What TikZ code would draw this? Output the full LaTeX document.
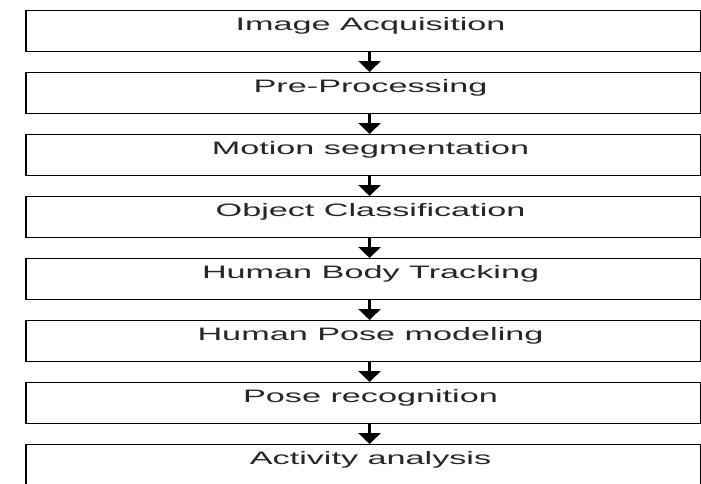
\documentclass[tikz,border=0pt]{standalone}
\usepackage{fontspec}
\setmainfont{Liberation Sans}
\usetikzlibrary{arrows.meta}
\tikzset{
  stagebox/.style={draw=black, line width=1.1pt, minimum width=674pt, minimum height=41pt, inner sep=0pt, anchor=north west},
  stagelabel/.style={anchor=base, inner sep=0pt, font=\fontsize{18}{20}\selectfont, text=black!85},
  flowarrow/.style={line width=3.6pt, -{Triangle[width=22pt,length=11pt]}, shorten >=0pt},
}
\begin{document}
\begin{tikzpicture}[x=1pt,y=-1pt]
\useasboundingbox (0,0) rectangle (701,483);
\clip (0,0) rectangle (701,483);
\fill[white] (0,0) rectangle (701,483);
\foreach \i/\t in {1/Image Acquisition,2/Pre-Processing,3/Motion segmentation,4/Object Classification,5/Human Body Tracking,6/Human Pose modeling,7/Pose recognition,8/Activity analysis}{
  \node[stagebox] (b\i) at (26,{10+62*(\i-1)}) {};
  \draw[line width=2pt] (b\i.north west) -- (b\i.south west);
  \node[stagelabel] (t\i) at ([xshift=7pt,yshift=-20.5pt]b\i.north) {\scalebox{1.9}[1]{\t}};
}
\foreach \i/\j in {1/2,2/3,3/4,4/5,5/6,6/7,7/8}{
  \draw[flowarrow] ([xshift=6pt]b\i.south) -- ([xshift=6pt]b\j.north);
}
\end{tikzpicture}
\end{document}
